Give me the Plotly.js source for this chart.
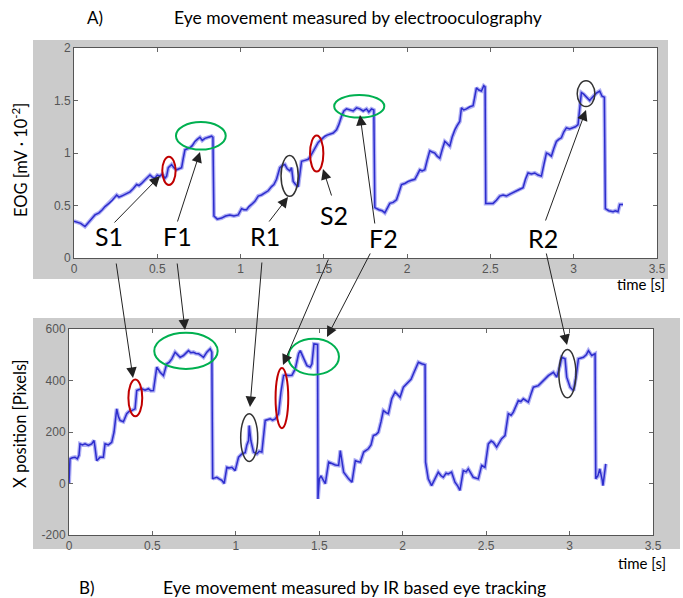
<!DOCTYPE html>
<html><head><meta charset="utf-8">
<script src="https://cdn.plot.ly/plotly-3.0.1.min.js"></script>
<style>html,body{margin:0;padding:0;background:#fff}#chart{width:683px;height:598px}</style>
</head><body><div id="chart"></div><script>
// ---- data: EOG (top) ----
const eogTime = [
 0,0.02,0.04,0.066,0.09,0.11,0.126,0.15,0.17,0.186,
 0.21,0.23,0.256,0.27,0.286,0.31,0.336,0.355,0.376,0.39,
 0.406,0.43,0.456,0.47,0.486,0.5,0.516,0.53,0.546,0.556,
 0.566,0.586,0.6,0.616,0.63,0.646,0.656,0.666,0.68,0.696,
 0.71,0.726,0.74,0.756,0.77,0.786,0.806,0.826,0.834,0.84,
 0.86,0.886,0.91,0.936,0.96,0.986,1.006,1.02,1.036,1.05,
 1.066,1.086,1.106,1.126,1.146,1.166,1.186,1.2,1.216,1.236,
 1.25,1.266,1.28,1.296,1.306,1.316,1.33,1.346,1.356,1.366,
 1.386,1.406,1.42,1.436,1.45,1.466,1.486,1.506,1.52,1.536,
 1.556,1.576,1.59,1.606,1.62,1.636,1.656,1.676,1.696,1.716,
 1.736,1.756,1.77,1.786,1.8,1.806,1.83,1.85,1.866,1.88,
 1.896,1.916,1.936,1.95,1.966,1.986,2.006,2.026,2.046,2.06,
 2.076,2.09,2.106,2.12,2.136,2.15,2.166,2.18,2.196,2.21,
 2.226,2.24,2.256,2.27,2.286,2.3,2.316,2.326,2.34,2.356,
 2.376,2.396,2.406,2.416,2.43,2.446,2.46,2.468,2.472,2.49,
 2.516,2.536,2.556,2.576,2.596,2.62,2.646,2.67,2.696,2.71,
 2.726,2.746,2.766,2.786,2.806,2.82,2.836,2.85,2.866,2.88,
 2.896,2.91,2.926,2.94,2.956,2.976,2.996,3.01,3.026,3.036,
 3.046,3.06,3.076,3.086,3.096,3.106,3.116,3.136,3.156,3.17,
 3.184,3.19,3.21,3.236,3.25,3.266,3.276,3.296
];
const eogValue = [
 0.35,0.34,0.33,0.30,0.35,0.38,0.41,0.43,0.46,0.49,
 0.52,0.55,0.60,0.58,0.59,0.61,0.63,0.66,0.70,0.69,
 0.71,0.75,0.79,0.77,0.76,0.79,0.78,0.80,0.76,0.78,
 0.86,0.89,0.86,0.84,0.85,0.86,0.95,1.03,1.04,1.05,
 1.07,1.11,1.13,1.15,1.12,1.14,1.15,1.16,1.15,0.40,
 0.37,0.38,0.40,0.41,0.40,0.41,0.47,0.46,0.46,0.49,
 0.51,0.54,0.59,0.60,0.62,0.64,0.68,0.70,0.75,0.86,
 0.88,0.89,0.85,0.83,0.86,0.73,0.70,0.68,0.80,0.92,
 0.93,0.94,0.97,1.02,1.06,1.10,1.13,1.16,1.17,1.18,
 1.19,1.22,1.27,1.35,1.40,1.42,1.41,1.40,1.43,1.42,
 1.40,1.42,1.39,1.42,1.41,0.48,0.46,0.45,0.43,0.47,
 0.52,0.53,0.555,0.62,0.70,0.71,0.73,0.74,0.75,0.79,
 0.84,0.83,0.84,0.93,1.02,1.01,1.00,0.97,0.95,1.03,
 1.11,1.09,1.065,1.15,1.22,1.26,1.30,1.43,1.41,1.42,
 1.44,1.45,1.52,1.62,1.60,1.59,1.64,1.63,0.52,0.52,
 0.52,0.55,0.59,0.60,0.59,0.61,0.635,0.65,0.67,0.75,
 0.81,0.80,0.81,0.79,0.78,0.90,1.00,0.99,0.97,1.04,
 1.11,1.13,1.145,1.20,1.24,1.23,1.24,1.25,1.27,1.42,
 1.575,1.56,1.53,1.51,1.50,1.52,1.54,1.57,1.59,1.54,
 1.53,0.47,0.45,0.44,0.45,0.44,0.51,0.51
];
// ---- data: IR eye tracker (bottom) ----
const irTime = [
 0,0.006,0.02,0.036,0.05,0.06,0.066,0.08,0.096,0.116,
 0.136,0.15,0.156,0.166,0.176,0.186,0.206,0.216,0.236,0.256,
 0.27,0.286,0.296,0.306,0.326,0.346,0.36,0.376,0.396,0.406,
 0.42,0.436,0.456,0.476,0.49,0.506,0.526,0.536,0.546,0.566,
 0.586,0.6,0.616,0.636,0.65,0.666,0.686,0.7,0.716,0.73,
 0.746,0.76,0.776,0.79,0.806,0.826,0.846,0.856,0.861,0.866,
 0.886,0.9,0.916,0.93,0.946,0.96,0.976,0.996,1.016,1.036,
 1.056,1.066,1.076,1.08,1.09,1.106,1.126,1.14,1.156,1.176,
 1.19,1.206,1.22,1.236,1.256,1.27,1.286,1.3,1.316,1.336,
 1.356,1.376,1.386,1.406,1.426,1.446,1.456,1.468,1.476,1.49,
 1.492,1.5,1.51,1.536,1.556,1.576,1.596,1.616,1.626,1.646,
 1.66,1.676,1.696,1.716,1.73,1.746,1.766,1.794,1.81,1.824,
 1.84,1.854,1.87,1.884,1.9,1.914,1.934,1.954,1.97,1.984,
 2.004,2.02,2.034,2.05,2.064,2.08,2.094,2.114,2.134,2.137,
 2.153,2.173,2.193,2.213,2.23,2.243,2.26,2.273,2.293,2.313,
 2.33,2.343,2.363,2.38,2.393,2.41,2.423,2.453,2.473,2.493,
 2.513,2.53,2.543,2.563,2.593,2.613,2.633,2.65,2.663,2.693,
 2.708,2.723,2.753,2.77,2.783,2.813,2.843,2.873,2.903,2.923,
 2.943,2.953,2.973,2.983,3.003,3.023,3.04,3.053,3.083,3.1,
 3.113,3.133,3.153,3.157,3.17,3.181,3.196,3.2,3.217
];
const irValue = [
 0,96,100,102,96,110,154,150,154,148,
 154,167,140,89,95,102,102,154,150,160,
 200,290,260,245,240,271,280,283,290,361,
 365,368,362,368,360,361,452,440,432,419,
 465,470,484,510,500,490,497,505,516,508,
 510,505,504,498,490,510,523,510,18,20,
 24,18,12,0,63,60,63,50,102,115,
 120,150,167,225,167,122,115,125,122,245,
 248,251,246,251,271,355,419,422,419,420,
 445,504,516,484,458,452,465,542,542,540,
 -60,18,30,-1,83,76,72,70,128,44,
 30,18,5,89,85,83,122,135,150,186,
 190,199,240,283,275,271,329,355,345,335,
 374,385,393,405,426,450,471,465,461,83,
 18,-8,18,44,30,24,40,37,44,5,
 -10,-27,50,45,57,40,24,18,70,63,
 154,165,160,141,174,186,271,265,277,322,
 318,329,316,350,374,380,400,419,432,413,
 458,490,484,413,374,361,420,484,490,500,
 516,497,504,18,30,57,12,-8,76
];
// ---- ticks & labels ----
const timeTicks = [0,0.5,1,1.5,2,2.5,3,3.5];
const timeTickText = ['0','0.5','1','1.5','2','2.5','3','3.5'];
const eogTicks = [0,0.5,1,1.5,2];
const eogTickText = ['0','0.5','1','1.5','2'];
const irTicks = [-200,0,200,400,600];
const irTickText = ['-200','0','200','400','600'];
const eventNames = ['S1','F1','R1','S2','F2','R2'];
const titleA = 'Eye movement measured by electrooculography';
const titleB = 'Eye movement measured by IR based eye tracking';

const W = 683, H = 598;
const P = x => x / W, Q = y => 1 - y / H;
const TXT = 'Lato, "Open Sans", sans-serif';
const tickFont = {family: '"Liberation Sans", Arial, sans-serif', size: 12, color: '#555'};

function axisX(dom, anchor) {
  return {domain: dom, anchor: anchor, range: [0, 3.5], tickvals: timeTicks, ticktext: timeTickText,
    ticks: 'inside', ticklen: 4, tickcolor: '#666', showline: true, linecolor: '#555', linewidth: 1,
    mirror: 'ticks', showgrid: false, zeroline: false, tickfont: tickFont, fixedrange: true};
}
function axisY(dom, anchor, rng, tv, tt) {
  return {domain: dom, anchor: anchor, range: rng, tickvals: tv, ticktext: tt,
    ticks: 'inside', ticklen: 4, tickcolor: '#666', showline: true, linecolor: '#555', linewidth: 1,
    mirror: 'ticks', showgrid: false, zeroline: false, tickfont: tickFont, fixedrange: true};
}

const halo = 'rgba(110,110,235,0.55)', core = 'rgb(45,45,205)';
const traces = [
  {x: eogTime, y: eogValue, xaxis: 'x', yaxis: 'y', mode: 'lines', line: {color: halo, width: 4}, hoverinfo: 'skip'},
  {x: eogTime, y: eogValue, xaxis: 'x', yaxis: 'y', mode: 'lines', line: {color: core, width: 1.5}, hoverinfo: 'skip'},
  {x: irTime, y: irValue, xaxis: 'x2', yaxis: 'y2', mode: 'lines', line: {color: halo, width: 4}, hoverinfo: 'skip'},
  {x: irTime, y: irValue, xaxis: 'x2', yaxis: 'y2', mode: 'lines', line: {color: core, width: 1.5}, hoverinfo: 'skip'}
];

const RED = '#c00000', GREEN = '#00b050', BLK = '#333';
function ell(xr, yr, x0, x1, y0, y1, c, w) {
  return {type: 'circle', xref: xr, yref: yr, x0: x0, x1: x1, y0: y0, y1: y1, line: {color: c, width: w}, layer: 'above'};
}
const shapes = [
  {type: 'rect', xref: 'paper', yref: 'paper', x0: P(33), x1: P(668), y0: Q(279), y1: Q(40), fillcolor: '#cbcbcb', line: {width: 0}, layer: 'below'},
  {type: 'rect', xref: 'paper', yref: 'paper', x0: P(33), x1: P(680), y0: Q(549), y1: Q(318), fillcolor: '#cbcbcb', line: {width: 0}, layer: 'below'},
  {type: 'rect', xref: 'x', yref: 'y', x0: 0, x1: 3.5, y0: 0, y1: 2, fillcolor: '#fff', line: {width: 0}, layer: 'below'},
  {type: 'rect', xref: 'x2', yref: 'y2', x0: 0, x1: 3.5, y0: -200, y1: 600, fillcolor: '#fff', line: {width: 0}, layer: 'below'},
  // top ellipses
  ell('x', 'y', 0.530, 0.610, 0.696, 0.964, RED, 2),
  ell('x', 'y', 0.612, 0.911, 1.033, 1.295, GREEN, 2),
  ell('x', 'y', 1.243, 1.346, 0.587, 0.976, BLK, 1.5),
  ell('x', 'y', 1.417, 1.497, 0.823, 1.167, RED, 2),
  ell('x', 'y', 1.562, 1.863, 1.337, 1.553, GREEN, 2),
  ell('x', 'y', 3.021, 3.127, 1.442, 1.687, BLK, 1.5),
  // bottom ellipses
  ell('x2', 'y2', 0.356, 0.439, 261, 404, RED, 2),
  ell('x2', 'y2', 0.511, 0.891, 445, 585, GREEN, 2),
  ell('x2', 'y2', 1.029, 1.131, 85, 271, BLK, 1.5),
  ell('x2', 'y2', 1.238, 1.314, 215, 449, RED, 2),
  ell('x2', 'y2', 1.314, 1.618, 422, 562, GREEN, 2),
  ell('x2', 'y2', 2.936, 3.038, 333, 520, BLK, 1.5)
];

function arrow(tx, ty, hx, hy) {
  return {xref: 'paper', yref: 'paper', x: P(hx), y: Q(hy), ax: tx - hx, ay: ty - hy, text: '',
    showarrow: true, arrowhead: 2, arrowsize: 2.1, arrowwidth: 1, arrowcolor: '#222', standoff: 0, startstandoff: 0};
}
function label(txt, cx, cy, size, extra) {
  return Object.assign({xref: 'paper', yref: 'paper', x: P(cx), y: Q(cy), xanchor: 'center', yanchor: 'middle',
    text: txt, showarrow: false, font: {family: TXT, size: size, color: '#000'}}, extra || {});
}
const labelPos = [[109, 236], [177, 236], [265, 236], [334, 215], [383, 238], [543, 238]];
const annotations = [
  arrow(113, 224, 160, 176), arrow(177, 223, 200, 152), arrow(268, 223, 288, 197),
  arrow(332, 197, 323, 169), arrow(375, 225, 360, 115), arrow(545, 222, 586, 110),
  arrow(116, 262, 133, 378), arrow(177, 262, 185, 330), arrow(262, 261, 250, 407),
  arrow(329, 258, 283, 365), arrow(371, 252, 327, 337), arrow(546, 252, 567, 345)
];
eventNames.forEach((n, i) => annotations.push(label(n, labelPos[i][0], labelPos[i][1], 25)));
annotations.push(
  label('A)', 95, 18, 17),
  label(titleA, 358, 18, 17.5),
  label('B)', 87, 587, 17),
  label(titleB, 354, 587, 17.5),
  label('time [s]', 641, 284, 15),
  label('time [s]', 642, 563, 15),
  label('EOG [mV · 10<sup>-2</sup>]', 20, 160, 16.5, {textangle: -90}),
  label('X position [Pixels]', 20, 424, 16.5, {textangle: -90})
);

const layout = {
  width: W, height: H, margin: {l: 0, r: 0, t: 0, b: 0},
  paper_bgcolor: '#fff', plot_bgcolor: '#fff', showlegend: false,
  xaxis: axisX([P(74), P(657)], 'y'),
  yaxis: axisY([Q(258), Q(48)], 'x', [0, 2], eogTicks, eogTickText),
  xaxis2: axisX([P(69), P(653)], 'y2'),
  yaxis2: axisY([Q(535), Q(329)], 'x2', [-200, 600], irTicks, irTickText),
  shapes: shapes, annotations: annotations
};
Plotly.newPlot('chart', traces, layout, {staticPlot: true, displayModeBar: false});
</script></body></html>
